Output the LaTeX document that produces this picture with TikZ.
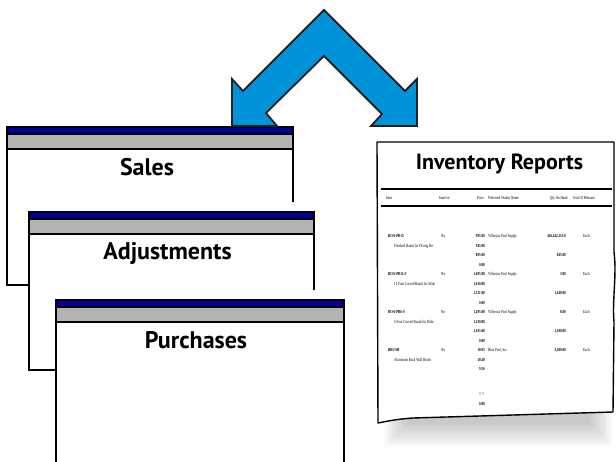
\documentclass[tikz,border=0pt]{standalone}
\usepackage{fontspec}
\usepackage{tikz}
\newfontfamily\titlefont{PT Sans}
\newfontfamily\rptfont[FakeStretch=0.7]{Liberation Serif}
\newcommand{\rptind}{\hspace*{6pt}}
\definecolor{arrowblue}{RGB}{0,147,217}
\definecolor{barblue}{RGB}{0,0,153}
\definecolor{bargray}{RGB}{179,179,179}
\definecolor{edgegray}{RGB}{35,31,32}

\begin{document}
\begin{tikzpicture}[x=1pt,y=-1pt]
\tikzstyle{every node}=[inner sep=0pt];
\tikzstyle{title}=[font=\titlefont\bfseries\fontsize{24}{24}\selectfont,anchor=base];
\tikzstyle{rpt}=[font=\rptfont\fontsize{4.6}{5}\selectfont];
\tikzstyle{rptbold}=[font=\rptfont\bfseries\fontsize{4.6}{5}\selectfont];
\tikzstyle{winline}=[draw=black,line width=1.3pt];
\useasboundingbox (0,0) rectangle (616,461);

% the three windows, back to front
\foreach \xl/\yt/\xr/\yb/\pad in {7/127/293/285/0, 29/212/314/370/10, 56/300/344/480/10}{
	\fill[white] (\xl,\yt-\pad) rectangle (\xr,\yb);
	\fill[barblue] (\xl,\yt) rectangle (\xr,\yt+7);
	\fill[bargray] (\xl,\yt+7) rectangle (\xr,\yt+22);
	\draw[winline] (\xl,\yt) rectangle (\xr,\yb);
	\draw[winline] (\xl,\yt+7) -- (\xr,\yt+7);
	\draw[winline] (\xl,\yt+22) -- (\xr,\yt+22);
}
\node[title] (sales) at (147,175) {Sales};
\node[title] (adjust) at (167.5,259) {Adjustments};
\node[title] (purch) at (196,348) {Purchases};

% double arrow
\draw[edgegray,fill=arrowblue,line width=1.8pt,line join=miter]
	(324,10) -- (243,91) -- (232,79) -- (232,126) -- (277,126) -- (266,113)
	-- (324,56) -- (382,114) -- (371,126) -- (417,126) -- (417,79) -- (405,91) -- cycle;

% report sheet with a soft shadow
\foreach \k in {0,...,9}
	\fill[black,opacity=0.022] (384+\k*2.5,412) rectangle (612-\k*2.5,447-\k*2.6);
\draw[fill=white,line width=1.4pt,line join=round]
	(377,142) -- (614,142) -- (614,252) .. controls (617,275) and (612,300) .. (614,322)
	-- (613,412) -- (413,418) .. controls (398,419) and (388,421) .. (378,423) -- cycle;
\node[title,font=\titlefont\bfseries\fontsize{22}{22}\selectfont] (invrep) at (499.5,169) {Inventory Reports};
\draw[line width=1.3pt] (381,189) -- (612,189);
\draw[line width=1.3pt] (381,206) -- (612,206);

\node[rpt,anchor=base west] (hitem) at (386,199) {Item};
\node[rpt,anchor=base west] (hinact) at (439,199) {Inactive};
\node[rpt,anchor=base east] (hprice) at (484,199) {Price};
\node[rpt,anchor=base west] (hvend) at (488,199) {Preferred Vendor Name};
\node[rpt,anchor=base west] (hqty) at (550,199) {Qty On Hand};
\node[rpt,anchor=base west] (hunit) at (573,199) {Unit Of Measure};

\foreach \y/\itm/\inact/\price/\vend/\qty/\unit [count=\n] in {
	236/\textbf{BOA-PB-D}/No/995.00/Villeroux Pool Supply/{416,442,255.0}/Each,
	245.5/\rptind Finished Board for Diving Kit/{}/945.00/{}/{}/{},
	255/{}/{}/895.00/{}/845.00/{},
	264.5/{}/{}/0.00/{}/{}/{},
	274/\textbf{BOA-PB12-S}/No/{1,695.00}/Villeroux Pool Supply/3.00/Each,
	283.5/\rptind 12 Foot Curved Board for Slide/{}/{1,610.00}/{}/{}/{},
	293/{}/{}/{1,521.00}/{}/{1,440.00}/{},
	302.5/{}/{}/0.00/{}/{}/{},
	312/\textbf{BOA-PB6-S}/No/{1,295.00}/Villeroux Pool Supply/8.00/Each,
	321.5/\rptind 6 Foot Curved Board for Slide/{}/{1,230.00}/{}/{}/{},
	331/{}/{}/{1,165.00}/{}/{1,100.00}/{},
	340.5/{}/{}/0.00/{}/{}/{},
	350/\textbf{BRUSH}/No/10.95/{Blue Pool, Inc.}/{4,200.00}/Each,
	359.5/\rptind Aluminum Back Wall Brush/{}/10.40/{}/{}/{},
	369/{}/{}/9.56/{}/{}/{},
	403.5/{}/{}/0.00/{}/{}/{}}{
	\node[rpt,anchor=base west] (item\n) at (388,\y+1.8) {\itm};
	\node[rpt,anchor=base west] (inact\n) at (441,\y+1.8) {\inact};
	\node[rptbold,anchor=base east] (price\n) at (485,\y+1.8) {\price};
	\node[rpt,anchor=base west] (vend\n) at (488,\y+1.8) {\vend};
	\node[rptbold,anchor=base east] (qty\n) at (566,\y+1.8) {\qty};
	\node[rpt,anchor=base west] (unit\n) at (583,\y+1.8) {\unit};
}
\node[rpt,anchor=base east,text=black!60] (price971) at (485,395.3) {9.71};
\end{tikzpicture}
\end{document}
